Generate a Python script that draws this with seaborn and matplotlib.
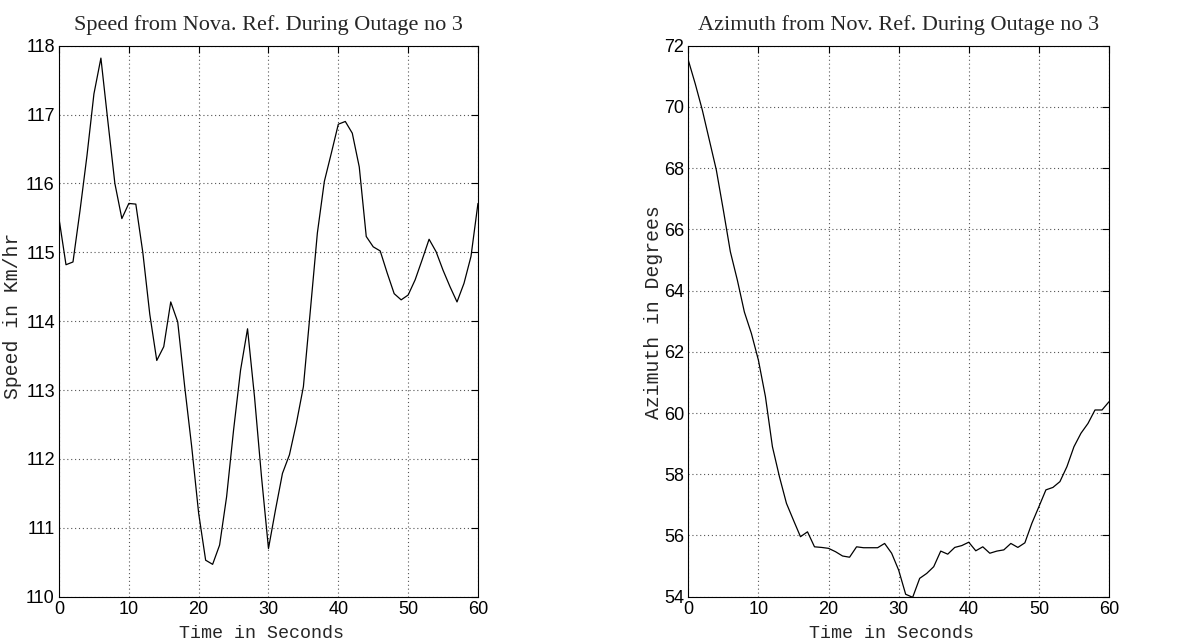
import numpy as np
import pandas as pd
import seaborn as sns
import matplotlib.pyplot as plt

# Time axis, one sample per second
time_s = list(range(61))

speed_kmh = [
    115.49, 114.82, 114.86, 115.6, 116.4, 117.3, 117.82, 116.9, 116.0, 115.49,
    115.71, 115.7, 115.0, 114.1, 113.43, 113.63, 114.28, 113.99, 113.05, 112.18,
    111.21, 110.53, 110.47, 110.75, 111.45, 112.42, 113.29, 113.89, 112.9, 111.74,
    110.70, 111.26, 111.79, 112.06, 112.52, 113.05, 114.16, 115.28, 116.03, 116.44,
    116.86, 116.9, 116.73, 116.24, 115.23, 115.08, 115.02, 114.7, 114.4, 114.31,
    114.38, 114.6, 114.89, 115.19, 115.01, 114.74, 114.5, 114.28, 114.55, 114.94,
    115.71,
]

azimuth_deg = [
    71.53, 70.75, 69.9, 68.92, 67.94, 66.63, 65.27, 64.34, 63.3, 62.6,
    61.73, 60.54, 58.9, 57.92, 57.05, 56.5, 55.96, 56.12, 55.63, 55.61,
    55.58, 55.47, 55.33, 55.29, 55.63, 55.6, 55.6, 55.6, 55.74, 55.42,
    54.87, 54.08, 53.98, 54.6, 54.76, 54.98, 55.49, 55.39, 55.61, 55.67,
    55.78, 55.5, 55.63, 55.42, 55.49, 55.53, 55.74, 55.61, 55.76, 56.4,
    56.94, 57.49, 57.57, 57.76, 58.25, 58.9, 59.34, 59.66, 60.1, 60.1,
    60.37,
]

speed_ticks = [110, 111, 112, 113, 114, 115, 116, 117, 118]
azimuth_ticks = [54, 56, 58, 60, 62, 64, 66, 68, 70, 72]
time_ticks = [0, 10, 20, 30, 40, 50, 60]

df = pd.DataFrame({"t": time_s, "speed": speed_kmh, "azimuth": azimuth_deg})

sns.set_style("white")

title_font = {"family": "Liberation Serif", "size": 16}
xlabel_font = {"family": "Liberation Mono", "size": 13.2}
ylabel_font = {"family": "Liberation Mono", "size": 14.2}

fig = plt.figure(figsize=(11.97, 6.41), dpi=100)
ax1 = fig.add_axes([0.0493, 0.0691, 0.3500, 0.8596])
ax2 = fig.add_axes([0.5750, 0.0691, 0.3515, 0.8596])


def style_axes(ax, yticks, title, ylabel, ylabel_x, ylabel_y):
    ax.set_xlim(0, 60)
    ax.set_ylim(yticks[0], yticks[-1])
    ax.set_xticks(time_ticks)
    ax.set_yticks(yticks)
    ax.grid(True, linestyle=(0, (1, 2.5)), color="#555555", linewidth=0.8)
    ax.tick_params(direction="in", length=5, width=0.8, top=True, right=True,
                   labelsize=13, colors="black", pad=3)
    for lab in ax.get_xticklabels() + ax.get_yticklabels():
        lab.set_family("Liberation Sans")
    for sp in ax.spines.values():
        sp.set_color("black")
        sp.set_linewidth(0.8)
        sp.set_visible(True)
    ax.set_title(title, fontdict=title_font, pad=11)
    ax.set_xlabel("Time in Seconds", fontdict=xlabel_font)
    ax.xaxis.set_label_coords(0.483, -0.052)
    ax.set_ylabel(ylabel, fontdict=ylabel_font)
    ax.yaxis.set_label_coords(ylabel_x, ylabel_y)


sns.lineplot(data=df, x="t", y="speed", ax=ax1, color="black", linewidth=0.9)
style_axes(ax1, speed_ticks, "Speed from Nova. Ref. During Outage no 3",
           "Speed in Km/hr", -0.088, 0.51)

sns.lineplot(data=df, x="t", y="azimuth", ax=ax2, color="black", linewidth=0.9)
style_axes(ax2, azimuth_ticks, "Azimuth from Nov. Ref. During Outage no 3",
           "Azimuth in Degrees", -0.061, 0.517)

fig.savefig("out.png", dpi=100, facecolor="white")
